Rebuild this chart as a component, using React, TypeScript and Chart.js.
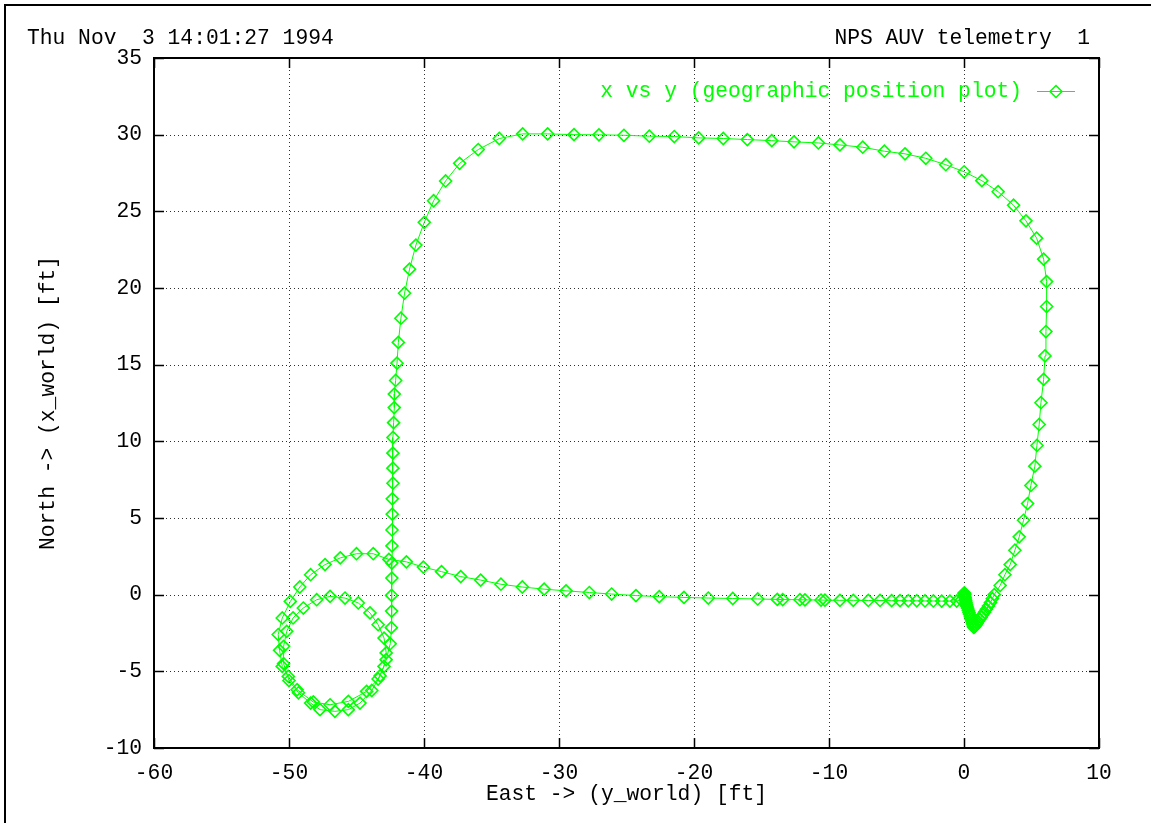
import { useEffect, useRef } from "react";
import { Chart, registerables } from "chart.js";

Chart.register(...registerables);

const MONO = "'Liberation Mono', 'Courier New', monospace";
const FONT_PX = 21.3;
const TRACE = "#00ff00";

// Header / axis text
const stampText = "Thu Nov  3 14:01:27 1994";
const headerText = "NPS AUV telemetry  1";
const seriesLabel = "x vs y (geographic position plot)";
const xTitle = "East -> (y_world) [ft]";
const yTitle = "North -> (x_world) [ft]";

// Axis ranges and tick values
const xTicks = [-60, -50, -40, -30, -20, -10, 0, 10];
const yTicks = [-10, -5, 0, 5, 10, 15, 20, 25, 30, 35];

// Telemetry track, leg by leg: East (y_world) and North (x_world) in feet
// Hover at launch, then the short dip south-east
const launchEast = [0.0, 0.02, 0.04, 0.06, 0.05, 0.08, 0.1, 0.12, 0.15, 0.18, 0.22, 0.27, 0.32, 0.37, 0.42, 0.47, 0.52, 0.57, 0.62, 0.66, 0.7, 0.73];
const launchNorth = [0.05, 0.12, 0.08, 0.0, -0.1, -0.18, -0.28, -0.38, -0.5, -0.62, -0.75, -0.88, -1.02, -1.16, -1.3, -1.44, -1.58, -1.72, -1.85, -1.96, -2.06, -2.14];

// Northbound leg on the east side
const eastLegEast = [0.8, 0.88, 0.97, 1.06, 1.16, 1.27, 1.39, 1.52, 1.66, 1.81, 1.96, 2.1, 2.24, 2.68, 3.03, 3.42, 3.77, 4.09, 4.41, 4.71, 4.95, 5.25, 5.4, 5.57, 5.7, 5.9, 6.0, 6.07, 6.12, 6.12, 5.9, 5.38, 4.59, 3.67, 2.53, 1.32];
const eastLegNorth = [-2.08, -1.98, -1.86, -1.74, -1.61, -1.47, -1.31, -1.14, -0.95, -0.74, -0.52, -0.26, 0.0, 0.6, 1.3, 1.96, 2.9, 3.77, 4.85, 5.94, 7.12, 8.38, 9.73, 11.1, 12.52, 14.04, 15.57, 17.16, 18.79, 20.42, 21.88, 23.25, 24.38, 25.4, 26.28, 27.0];

// Westbound leg along the north side
const northLegEast = [0.01, -1.35, -2.83, -4.37, -5.9, -7.5, -9.19, -10.79, -12.59, -14.24, -16.05, -17.83, -19.65, -21.46, -23.31, -25.19, -27.04, -28.89, -30.84, -32.69, -34.42, -35.98, -37.36, -38.4, -39.29, -39.98, -40.6, -41.07, -41.44, -41.71];
const northLegNorth = [27.58, 28.04, 28.46, 28.75, 28.92, 29.18, 29.33, 29.46, 29.53, 29.61, 29.68, 29.75, 29.79, 29.88, 29.9, 29.96, 29.99, 30.0, 30.05, 30.05, 29.75, 29.03, 28.13, 26.98, 25.69, 24.28, 22.8, 21.23, 19.66, 18.03];

// Southbound leg on the west side
const westLegEast = [-41.9, -42.0, -42.1, -42.2, -42.2, -42.25, -42.3, -42.3, -42.3, -42.3, -42.35, -42.35, -42.37, -42.37, -42.38, -42.38, -42.4, -42.4, -42.42, -42.5];
const westLegNorth = [16.45, 15.1, 13.97, 13.08, 12.2, 11.22, 10.25, 9.23, 8.25, 7.27, 6.25, 5.25, 4.22, 3.18, 2.06, 1.08, -0.05, -1.07, -2.15, -3.2];

// Two turns of the circle south-west of the crossing
const circleEast = [-42.8, -43.25, -43.87, -44.74, -45.6, -46.6, -47.7, -48.4, -49.3, -50.0, -50.4, -50.4, -50.17, -49.7, -48.94, -47.95, -46.96, -45.85, -44.87, -44.0, -43.4, -42.96, -42.8, -42.96, -43.4, -44.25, -45.6, -46.96, -48.2, -49.4, -50.05, -50.5, -50.7, -50.8, -50.5, -49.9, -49.2, -48.4, -47.33, -46.2, -45.0, -43.76, -42.6];
const circleNorth = [-4.24, -5.3, -6.25, -7.07, -7.5, -7.61, -7.5, -7.07, -6.4, -5.6, -4.5, -3.37, -2.39, -1.52, -0.87, -0.33, -0.11, -0.22, -0.54, -1.19, -1.96, -2.83, -3.8, -4.68, -5.5, -6.31, -6.96, -7.18, -7.0, -6.2, -5.33, -4.68, -3.63, -2.6, -1.52, -0.44, 0.5, 1.3, 1.96, 2.4, 2.67, 2.67, 2.3];

// Eastbound return to the origin
const returnEast = [-41.3, -40.05, -38.7, -37.28, -35.8, -34.3, -32.72, -31.1, -29.48, -27.75, -26.1, -24.3, -22.57, -20.74, -18.94, -17.13, -15.28, -13.83, -13.43, -12.15, -11.78, -10.59, -10.3, -9.19, -8.2, -7.09, -6.22, -5.36, -4.74, -4.13, -3.5, -2.89, -2.27, -1.65, -1.04, -0.54, -0.2];
const returnNorth = [2.14, 1.8, 1.5, 1.18, 0.95, 0.68, 0.5, 0.36, 0.25, 0.14, 0.04, -0.06, -0.13, -0.18, -0.22, -0.25, -0.28, -0.31, -0.32, -0.33, -0.34, -0.35, -0.36, -0.37, -0.37, -0.38, -0.38, -0.39, -0.39, -0.4, -0.4, -0.41, -0.41, -0.42, -0.42, -0.42, -0.35];

const trackEast = [...launchEast, ...eastLegEast, ...northLegEast, ...westLegEast, ...circleEast, ...returnEast];
const trackNorth = [...launchNorth, ...eastLegNorth, ...northLegNorth, ...westLegNorth, ...circleNorth, ...returnNorth];

const MARK_R = 6;

const drawDiamond = (ctx: CanvasRenderingContext2D, x: number, y: number, r: number) => {
  ctx.beginPath();
  ctx.moveTo(x, y - r);
  ctx.lineTo(x + r, y);
  ctx.lineTo(x, y + r);
  ctx.lineTo(x - r, y);
  ctx.closePath();
  ctx.stroke();
};

// gnuplot-style frame: dotted grid, solid border, inward ticks, header and key
const gnuplotDecor = {
  id: "gnuplotDecor",
  beforeDatasetsDraw(chart: any) {
    const { ctx, chartArea: a, scales } = chart;
    ctx.save();
    ctx.strokeStyle = "#303030";
    ctx.lineWidth = 1;
    ctx.setLineDash([1, 3]);
    xTicks.forEach((v) => {
      const px = Math.round(scales.x.getPixelForValue(v)) + 0.5;
      if (px <= a.left + 2 || px >= a.right - 2) return;
      ctx.beginPath();
      ctx.moveTo(px, a.top);
      ctx.lineTo(px, a.bottom);
      ctx.stroke();
    });
    yTicks.forEach((v) => {
      const py = Math.round(scales.y.getPixelForValue(v)) + 0.5;
      if (py <= a.top + 2 || py >= a.bottom - 2) return;
      ctx.beginPath();
      ctx.moveTo(a.left, py);
      ctx.lineTo(a.right, py);
      ctx.stroke();
    });
    ctx.restore();
  },
  afterDatasetsDraw(chart: any) {
    const { ctx, chartArea: a, scales } = chart;
    ctx.save();
    ctx.setLineDash([]);
    ctx.strokeStyle = "#000";
    // inward tick marks on all four sides
    ctx.lineWidth = 1.5;
    const tl = 10;
    xTicks.forEach((v) => {
      const px = Math.round(scales.x.getPixelForValue(v)) + 0.5;
      ctx.beginPath();
      ctx.moveTo(px, a.bottom);
      ctx.lineTo(px, a.bottom - tl);
      ctx.moveTo(px, a.top);
      ctx.lineTo(px, a.top + tl);
      ctx.stroke();
    });
    yTicks.forEach((v) => {
      const py = Math.round(scales.y.getPixelForValue(v)) + 0.5;
      ctx.beginPath();
      ctx.moveTo(a.left, py);
      ctx.lineTo(a.left + tl, py);
      ctx.moveTo(a.right, py);
      ctx.lineTo(a.right - tl, py);
      ctx.stroke();
    });
    // plot border
    ctx.lineWidth = 2;
    ctx.strokeRect(Math.round(a.left), Math.round(a.top), Math.round(a.right - a.left), Math.round(a.bottom - a.top));
    ctx.restore();
  },
  afterDraw(chart: any) {
    const { ctx, chartArea: a } = chart;
    ctx.save();
    // outer page frame
    ctx.strokeStyle = "#000";
    ctx.lineWidth = 2;
    ctx.strokeRect(5, 5, 1160, 840);

    ctx.font = `${FONT_PX}px ${MONO}`;
    ctx.textBaseline = "middle";
    ctx.fillStyle = "#000";
    ctx.textAlign = "left";
    ctx.fillText(stampText, 27, 38);
    ctx.textAlign = "right";
    ctx.fillText(headerText, 1090, 38);

    // axis titles
    ctx.textAlign = "center";
    ctx.fillText(xTitle, (a.left + a.right) / 2, 794);
    ctx.save();
    ctx.translate(48, (a.top + a.bottom) / 2);
    ctx.rotate(-Math.PI / 2);
    ctx.fillText(yTitle, 0, 0);
    ctx.restore();

    // key
    const ky = 91;
    ctx.fillStyle = TRACE;
    ctx.textAlign = "right";
    ctx.fillText(seriesLabel, 1022, ky);
    ctx.strokeStyle = TRACE;
    ctx.lineWidth = 1;
    ctx.beginPath();
    ctx.moveTo(1037, ky + 0.5);
    ctx.lineTo(1075, ky + 0.5);
    ctx.stroke();
    ctx.lineWidth = 1.5;
    drawDiamond(ctx, 1056, ky + 0.5, MARK_R);
    ctx.restore();
  },
};

export default function App() {
  const canvasRef = useRef<HTMLCanvasElement | null>(null);

  useEffect(() => {
    const canvas = canvasRef.current;
    if (!canvas) return;
    const points = trackEast.map((x, i) => ({ x, y: trackNorth[i] }));
    const tickFont = { family: MONO, size: FONT_PX };
    const chart = new Chart(canvas, {
      type: "scatter",
      data: {
        datasets: [
          {
            label: seriesLabel,
            data: points,
            showLine: true,
            borderColor: TRACE,
            borderWidth: 1,
            tension: 0,
            pointStyle: "rectRot",
            pointRadius: MARK_R,
            pointBorderWidth: 1.6,
            pointBorderColor: TRACE,
            pointBackgroundColor: "rgba(0,0,0,0)",
          },
        ],
      },
      options: {
        responsive: false,
        animation: false,
        devicePixelRatio: 1,
        layout: { padding: { top: 58, right: 52, bottom: 0, left: 0 } },
        plugins: {
          legend: { display: false },
          tooltip: { enabled: false },
        },
        scales: {
          x: {
            type: "linear",
            min: xTicks[0],
            max: xTicks[xTicks.length - 1],
            afterBuildTicks: (s: any) => {
              s.ticks = xTicks.map((value) => ({ value }));
            },
            afterFit: (s: any) => {
              s.height = 75;
            },
            grid: { display: false, drawTicks: false },
            border: { display: false },
            ticks: { color: "#000", font: tickFont, padding: 13, maxRotation: 0, autoSkip: false },
          },
          y: {
            type: "linear",
            min: yTicks[0],
            max: yTicks[yTicks.length - 1],
            afterBuildTicks: (s: any) => {
              s.ticks = yTicks.map((value) => ({ value }));
            },
            afterFit: (s: any) => {
              s.width = 154;
            },
            grid: { display: false, drawTicks: false },
            border: { display: false },
            ticks: { color: "#000", font: tickFont, padding: 12, autoSkip: false },
          },
        },
      },
      plugins: [gnuplotDecor],
    });
    return () => chart.destroy();
  }, []);

  return (
    <div style={{ position: "fixed", left: 0, top: 0, width: 1151, height: 823, background: "#fff" }}>
      <canvas ref={canvasRef} width={1151} height={823} style={{ display: "block" }} />
    </div>
  );
}
